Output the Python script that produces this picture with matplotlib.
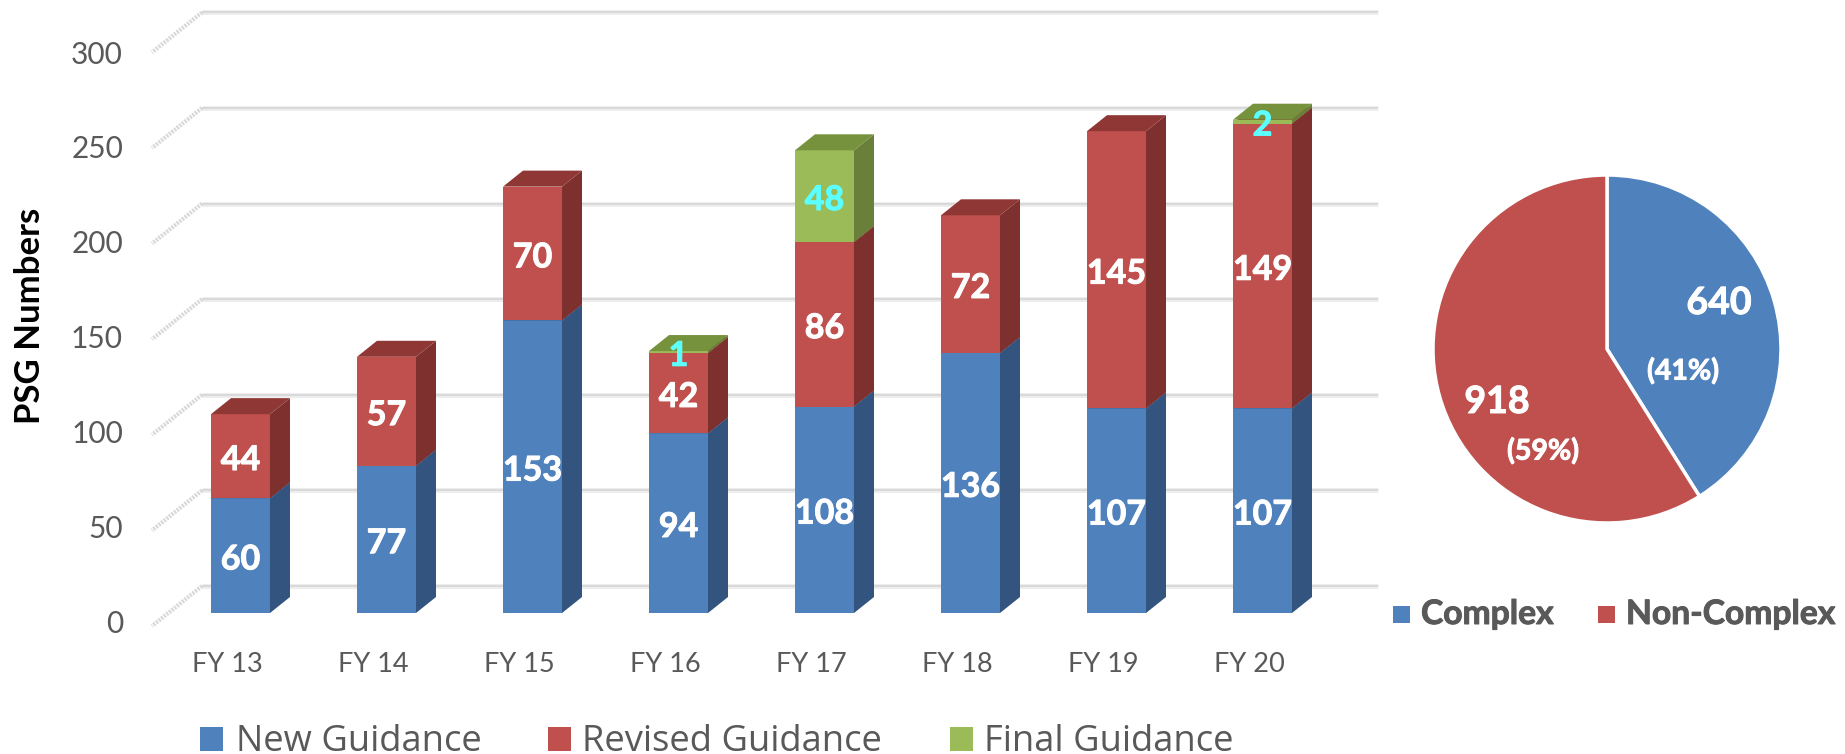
import matplotlib
matplotlib.use("Agg")
import matplotlib.pyplot as plt
import matplotlib.patheffects as pe
from matplotlib.patches import Polygon, Rectangle

plt.rcParams['font.family'] = ['Lato', 'DejaVu Sans']

years = ["FY 13", "FY 14", "FY 15", "FY 16", "FY 17", "FY 18", "FY 19", "FY 20"]
new_guidance = [60, 77, 153, 94, 108, 136, 107, 107]
revised_guidance = [44, 57, 70, 42, 86, 72, 145, 149]
final_guidance = [0, 0, 0, 1, 48, 0, 0, 2]
y_ticks = [0, 50, 100, 150, 200, 250, 300]

pie_labels = ["Complex", "Non-Complex"]
pie_values = [640, 918]
pie_percents = ["(41%)", "(59%)"]

# front, side, top colours
BLUE = ("#4F81BD", "#32547E", "#3A5F8F")
RED = ("#C0504D", "#7E302E", "#8E3735")
GREEN = ("#9BBB59", "#6A7F3A", "#76923C")
GREY = "#595959"
CYAN = "#5CFFFF"

W, H = 1845, 754
PX_X = 146.0      # pixels per category
PX_Y = 1.912      # pixels per unit
X0 = 240.5        # pixel of first bar centre
Y0 = 613.0        # pixel of value 0 on the bar front

fig = plt.figure(figsize=(W / 100, H / 100), dpi=100)
ax = fig.add_axes([0, 0, 1, 1])
ax.set_xlim(-X0 / PX_X, (W - X0) / PX_X)
ax.set_ylim((Y0 - H) / PX_Y, Y0 / PX_Y)
ax.axis("off")
ax.set_zorder(2)


def px(x):
    return (x - X0) / PX_X


def py(y):
    return (Y0 - y) / PX_Y


def heavy(col):
    # Lato bold is a bit lighter than the reference, thicken it slightly
    return [pe.withStroke(linewidth=0.7, foreground=col)]


bar_w = 59 / PX_X
dx = 20 / PX_X
dy = 16 / PX_Y
wall_dy = 27 / PX_Y
floor_dx = 50 / PX_X
floor_dy = 40 / PX_Y
wall_left = px(202)
wall_right = px(1378)

# back wall gridlines and the dotted floor edges
for v in y_ticks:
    yy = v + wall_dy
    ax.plot([wall_left, wall_right], [yy, yy], color="#EDEDED", lw=3.6, zorder=1,
            solid_capstyle="butt")
    ax.plot([wall_left, wall_right], [yy, yy], color="#D6D6D6", lw=1.2, zorder=1.1,
            solid_capstyle="butt")
    ax.plot([wall_left, wall_left - floor_dx], [yy, yy - floor_dy], color="#D8D8D8",
            lw=3, ls=(0, (0.5, 0.3)), zorder=1)
    # the tick labels sit a little tighter than the wall lines
    ax.text(px(123), py(624 - 1.898 * v), str(v), ha="right", va="center",
            fontsize=21.5, color=GREY)


def draw_segment(i, bottom, value, colors, z):
    left = i - bar_w / 2
    right = i + bar_w / 2
    top = bottom + value
    ax.add_patch(Polygon([(left, bottom), (right, bottom), (right, top), (left, top)],
                         fc=colors[0], ec="none", zorder=z))
    ax.add_patch(Polygon([(right, bottom), (right + dx, bottom + dy),
                          (right + dx, top + dy), (right, top)],
                         fc=colors[1], ec="none", zorder=z))
    ax.add_patch(Polygon([(left, top), (right, top), (right + dx, top + dy),
                          (left + dx, top + dy)],
                         fc=colors[2], ec="none", zorder=z))


for i, year in enumerate(years):
    b = 0
    for j, (vals, cols) in enumerate([(new_guidance, BLUE), (revised_guidance, RED),
                                      (final_guidance, GREEN)]):
        v = vals[i]
        if v == 0:
            continue
        draw_segment(i, b, v, cols, 3 + j * 0.1)
        col = CYAN if cols is GREEN else "white"
        ax.text(i, b + v / 2 - 2, str(v), ha="center", va="center", fontsize=24.5,
                fontweight="bold", color=col, zorder=6, path_effects=heavy(col))
        b += v
    ax.text(i + px(227), py(664), year, ha="center", va="center", fontsize=19.5,
            color=GREY)

ax.text(px(30), py(316), "PSG Numbers", rotation=90, ha="center", va="center",
        fontsize=25, fontweight="bold", color="black")

# bottom legend
legend_items = [("New Guidance", BLUE[0], 200, 236),
                ("Revised Guidance", RED[0], 548, 582),
                ("Final Guidance", GREEN[0], 950, 984)]
for name, col, sq_x, tx_x in legend_items:
    ax.add_patch(Rectangle((px(sq_x), py(751)), 23 / PX_X, 24 / PX_Y, fc=col, ec="none"))
    ax.text(px(tx_x), py(751), name, ha="left", va="baseline", fontsize=26.2, color=GREY,
            family=["Open Sans", "DejaVu Sans"])

# pie
cx, cy, r = 1607, 349, 174
pie_ax = fig.add_axes([(cx - r) / W, 1 - (cy + r) / H, 2 * r / W, 2 * r / H])
pie_ax.set_zorder(1)
pie_ax.pie(pie_values, colors=[BLUE[0], RED[0]], startangle=90, counterclock=False,
           radius=1, wedgeprops={"edgecolor": "white", "linewidth": 2.5})
pie_ax.set_xlim(-1, 1)
pie_ax.set_ylim(-1, 1)

ax.text(px(1719), py(303), str(pie_values[0]), ha="center", va="center", fontsize=27,
        fontweight="bold", color="white", zorder=8, path_effects=heavy("white"))
ax.text(px(1683), py(371), pie_percents[0], ha="center", va="center", fontsize=20.5,
        fontweight="bold", color="white", zorder=8, path_effects=heavy("white"))
ax.text(px(1497), py(402), str(pie_values[1]), ha="center", va="center", fontsize=27,
        fontweight="bold", color="white", zorder=8, path_effects=heavy("white"))
ax.text(px(1543), py(451), pie_percents[1], ha="center", va="center", fontsize=20.5,
        fontweight="bold", color="white", zorder=8, path_effects=heavy("white"))

# pie legend
for name, col, sq_x, tx_x in [(pie_labels[0], BLUE[0], 1393, 1421),
                              (pie_labels[1], RED[0], 1598, 1626)]:
    ax.add_patch(Rectangle((px(sq_x), py(623)), 17 / PX_X, 17 / PX_Y, fc=col, ec="none"))
    ax.text(px(tx_x), py(614), name, ha="left", va="center", fontsize=24.2,
            fontweight="bold", color=GREY, path_effects=heavy(GREY))

fig.savefig("out.png", dpi=100)
